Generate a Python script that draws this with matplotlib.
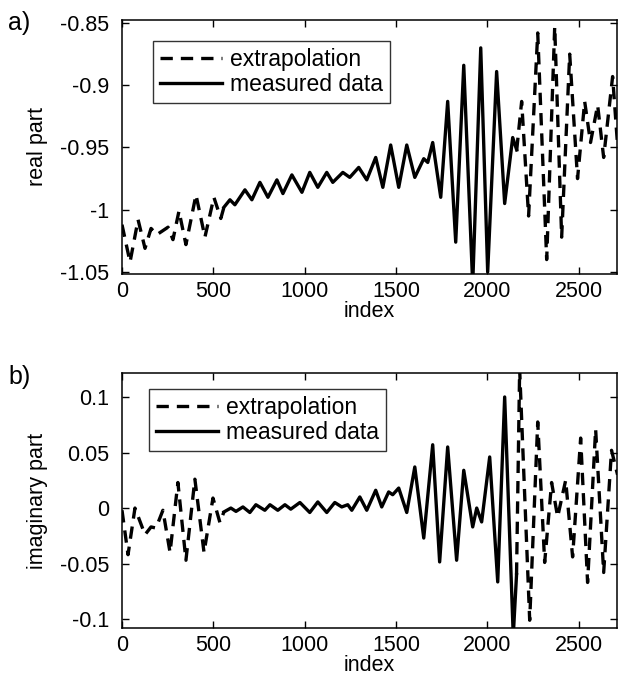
import matplotlib
matplotlib.use("Agg")
import matplotlib.pyplot as plt
import numpy as np

plt.rcParams['font.family'] = ['Liberation Sans', 'DejaVu Sans']

# ---- panel a: real part ----
re_meas_idx = [558, 591, 618, 673, 711, 755, 799, 848, 881, 930, 985, 1028, 1072,
               1121, 1154, 1209, 1247, 1296, 1340, 1389, 1428, 1471, 1515, 1559,
               1603, 1652, 1674, 1701, 1745, 1783, 1827, 1871, 1920, 1964, 2002,
               2051, 2095, 2139, 2161]
re_meas_val = [-0.998, -0.992, -0.996, -0.984, -0.992, -0.978, -0.990, -0.976,
               -0.987, -0.972, -0.986, -0.970, -0.982, -0.970, -0.978, -0.970,
               -0.974, -0.966, -0.976, -0.958, -0.982, -0.948, -0.982, -0.948,
               -0.974, -0.959, -0.962, -0.946, -0.990, -0.913, -1.026, -0.884,
               -1.060, -0.870, -1.050, -0.889, -0.995, -0.942, -0.952]

re_ext1_idx = [0, 44, 88, 126, 159, 191, 252, 279, 312, 350, 405, 454, 503, 541, 558]
re_ext1_val = [-1.012, -1.042, -1.008, -1.031, -1.015, -1.020, -1.014, -1.024,
               -1.001, -1.028, -0.988, -1.022, -0.990, -1.007, -0.998]

re_ext2_idx = [2161, 2188, 2226, 2276, 2325, 2369, 2407, 2451, 2494, 2533, 2565,
               2604, 2637, 2686, 2713]
re_ext2_val = [-0.952, -0.913, -1.005, -0.858, -1.040, -0.853, -1.022, -0.875,
               -0.975, -0.913, -0.946, -0.916, -0.958, -0.893, -0.948]

# ---- panel b: imaginary part ----
im_meas_idx = [558, 596, 624, 662, 700, 733, 782, 810, 853, 892, 924, 974, 1028,
               1072, 1121, 1165, 1203, 1236, 1258, 1302, 1340, 1389, 1422, 1460,
               1482, 1515, 1559, 1603, 1652, 1701, 1739, 1783, 1832, 1871, 1920,
               1942, 1969, 2013, 2057, 2095, 2142, 2160]
im_meas_val = [-0.0035, 0.000, -0.003, 0.001, -0.004, 0.003, -0.002, 0.003,
               -0.002, 0.003, -0.001, 0.005, -0.004, 0.0055, -0.004, 0.005,
               0.001, 0.003, -0.002, 0.010, -0.002, 0.016, 0.001, 0.0145, 0.012,
               0.018, -0.004, 0.037, -0.027, 0.057, -0.0485, 0.055, -0.047,
               0.034, -0.017, 0.000, -0.0125, 0.046, -0.0665, 0.100, -0.115,
               -0.060]

im_ext1_idx = [0, 33, 71, 126, 159, 186, 224, 263, 306, 350, 399, 449, 498, 536, 558]
im_ext1_val = [-0.002, -0.042, 0.000, -0.024, -0.017, -0.018, -0.002, -0.040,
               0.023, -0.047, 0.026, -0.040, 0.009, -0.013, -0.0035]

im_ext2_idx = [2160, 2177, 2232, 2276, 2314, 2352, 2385, 2429, 2467, 2511, 2549,
               2593, 2637, 2680, 2713]
im_ext2_val = [-0.060, 0.125, -0.101, 0.0775, -0.049, 0.023, -0.008, 0.025,
               -0.044, 0.063, -0.067, 0.071, -0.058, 0.052, 0.030]

x_ticks = [0, 500, 1000, 1500, 2000, 2500]
re_ticks = [-1.05, -1.0, -0.95, -0.9, -0.85]
re_tick_labels = ['-1.05', '-1', '-0.95', '-0.9', '-0.85']
im_ticks = [-0.1, -0.05, 0, 0.05, 0.1]
im_tick_labels = ['-0.1', '-0.05', '0', '0.05', '0.1']

W, H = 619, 688
fig = plt.figure(figsize=(W / 100, H / 100), dpi=100)

def px_axes(left, top, right, bottom):
    return fig.add_axes([left / W, 1 - bottom / H, (right - left) / W, (bottom - top) / H])

ax_a = px_axes(122, 20, 617, 274)
ax_b = px_axes(122, 373, 617, 628)

lw = 2.4
dash = (3.7, 2.4)
fs = 15.5

def style(ax, yticks, ylabels, ylim, ylabel):
    ax.set_xlim(0, 2710)
    ax.set_ylim(*ylim)
    ax.set_xticks(x_ticks)
    ax.set_xticklabels([str(t) for t in x_ticks])
    ax.set_yticks(yticks)
    ax.set_yticklabels(ylabels)
    ax.tick_params(direction='in', length=5, width=1, top=True, right=True,
                   labelsize=fs)
    ax.tick_params(axis='y', pad=9)
    ax.tick_params(axis='x', pad=5)
    for s in ax.spines.values():
        s.set_linewidth(1.1)
    ax.set_xlabel('index', fontsize=fs, labelpad=-1)
    ax.set_ylabel(ylabel, fontsize=fs, labelpad=9)

def add_legend(ax, anchor):
    leg = ax.legend(loc='upper left', bbox_to_anchor=anchor, borderaxespad=0,
                    fontsize=fs + 1, frameon=True, fancybox=False, handlelength=2.7,
                    handletextpad=0.35, labelspacing=0.1, borderpad=0.3)
    leg.get_frame().set_edgecolor('black')
    leg.get_frame().set_linewidth(1.0)

# panel a
ax_a.plot(re_ext1_idx, re_ext1_val, color='black', lw=lw, ls='--', dashes=dash,
          label='extrapolation')
ax_a.plot(re_ext2_idx, re_ext2_val, color='black', lw=lw, ls='--', dashes=dash,
          label='_nolegend_')
ax_a.plot(re_meas_idx, re_meas_val, color='black', lw=lw, label='measured data')
style(ax_a, re_ticks, re_tick_labels, (-1.0516, -0.8476), 'real part')
add_legend(ax_a, (0.0626, 0.917))

# panel b
ax_b.plot(im_ext1_idx, im_ext1_val, color='black', lw=lw, ls='--', dashes=dash,
          label='extrapolation')
ax_b.plot(im_ext2_idx, im_ext2_val, color='black', lw=lw, ls='--', dashes=dash,
          label='_nolegend_')
ax_b.plot(im_meas_idx, im_meas_val, color='black', lw=lw, label='measured data')
style(ax_b, im_ticks, im_tick_labels, (-0.108, 0.1216), 'imaginary part')
add_legend(ax_b, (0.0545, 0.937))

fig.text(8 / W, 1 - 23 / H, 'a)', fontsize=18, va='center', ha='left')
fig.text(8 / W, 1 - 377 / H, 'b)', fontsize=18, va='center', ha='left')

fig.savefig('out.png', dpi=100)
